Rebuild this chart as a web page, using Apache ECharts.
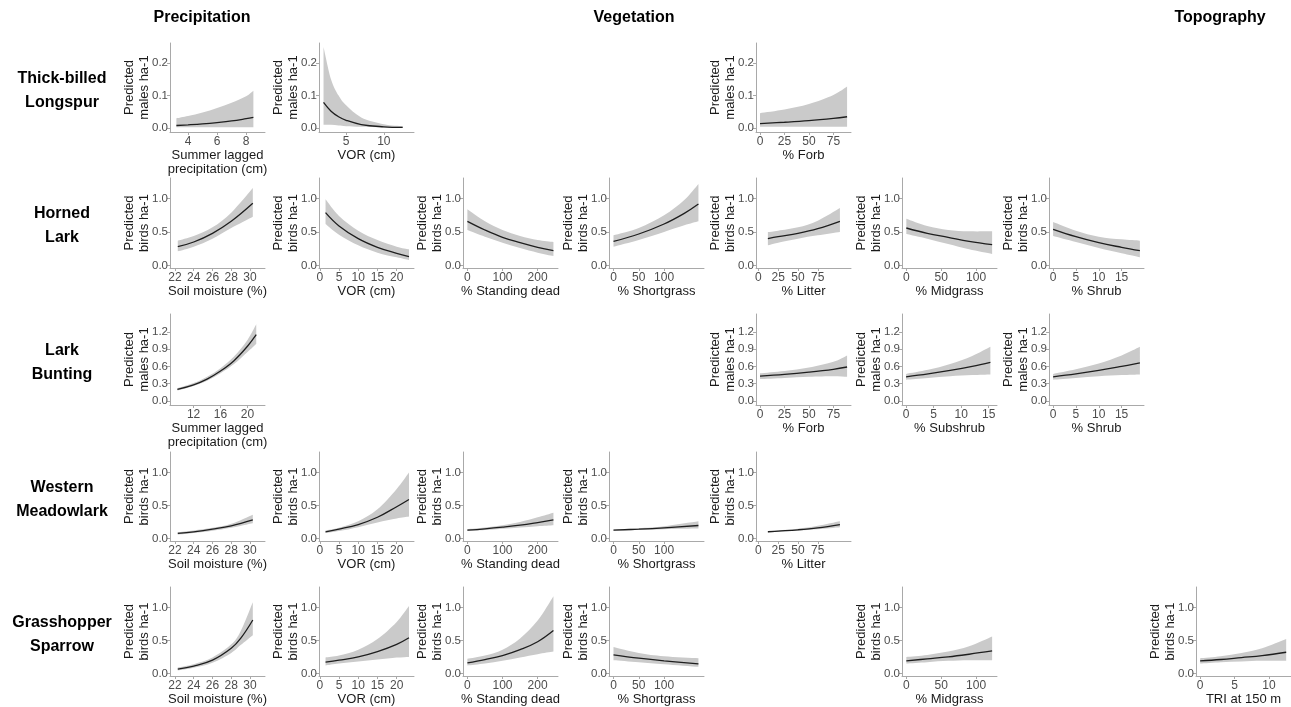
<!DOCTYPE html>
<html><head><meta charset="utf-8">
<script src="https://cdn.jsdelivr.net/npm/echarts@6.0.0/dist/echarts.min.js"></script>
<style>html,body{margin:0;padding:0;background:#fff}#c{width:1291px;height:707px}</style>
</head><body><div id="c"></div>
<script>
// ---------------- DATA ----------------
const ROW_LABELS = ['Thick-billed\nLongspur', 'Horned\nLark', 'Lark\nBunting', 'Western\nMeadowlark', 'Grasshopper\nSparrow'];
const COL_HEADERS = ['Precipitation', 'Vegetation', 'Topography'];
const Y_TITLES = ['Predicted\nmales ha-1', 'Predicted\nbirds ha-1', 'Predicted\nmales ha-1', 'Predicted\nbirds ha-1', 'Predicted\nbirds ha-1'];

const Y_TICKS_TBL = [0, 0.1, 0.2];
const Y_TICKS_BIRDS = [0, 0.5, 1.0];
const Y_TICKS_LB = [0, 0.3, 0.6, 0.9, 1.2];

const X_TICKS_PRECIP_TBL = [4, 6, 8];
const X_TICKS_VOR_TBL = [5, 10];
const X_TICKS_FORB = [0, 25, 50, 75];
const X_TICKS_SOIL = [22, 24, 26, 28, 30];
const X_TICKS_VOR = [0, 5, 10, 15, 20];
const X_TICKS_DEAD = [0, 100, 200];
const X_TICKS_SHORT = [0, 50, 100];
const X_TICKS_LITTER = [0, 25, 50, 75];
const X_TICKS_MID = [0, 50, 100];
const X_TICKS_SHRUB = [0, 5, 10, 15];
const X_TICKS_PRECIP_LB = [12, 16, 20];
const X_TICKS_SUBSHRUB = [0, 5, 10, 15];
const X_TICKS_TRI = [0, 5, 10];

// rows: [x, lower, predicted, upper]
const TBL_PRECIP = [[3.2,0.003,0.008,0.030],[4,0.003,0.010,0.037],[5,0.003,0.013,0.048],[6,0.003,0.017,0.062],[7,0.003,0.022,0.078],[8,0.003,0.029,0.098],[8.5,0.003,0.033,0.115]];
const TBL_VOR = [[2,0.010,0.079,0.250],[3,0.010,0.052,0.150],[4,0.008,0.035,0.100],[5,0.006,0.024,0.070],[7,0.004,0.011,0.033],[10,0.002,0.004,0.012],[12.5,0.001,0.002,0.006]];
const TBL_FORB = [[0,0.004,0.014,0.046],[25,0.004,0.018,0.057],[50,0.004,0.023,0.074],[75,0.004,0.030,0.102],[89,0.004,0.035,0.128]];

const HL_SOIL = [[22.3,0.21,0.28,0.37],[24,0.28,0.35,0.44],[26,0.40,0.48,0.57],[28,0.56,0.66,0.79],[30.3,0.73,0.93,1.16]];
const HL_VOR = [[1.5,0.62,0.79,0.99],[5,0.46,0.59,0.74],[10,0.30,0.40,0.52],[15,0.19,0.27,0.38],[20,0.12,0.18,0.28],[23.2,0.08,0.13,0.24]];
const HL_DEAD = [[0,0.53,0.66,0.84],[50,0.43,0.53,0.66],[100,0.34,0.42,0.53],[150,0.26,0.34,0.44],[200,0.19,0.27,0.38],[245,0.14,0.22,0.35]];
const HL_SHORT = [[0,0.28,0.36,0.45],[50,0.38,0.47,0.56],[100,0.50,0.62,0.75],[140,0.60,0.78,0.98],[168,0.66,0.92,1.22]];
const HL_LITTER = [[12,0.30,0.40,0.50],[25,0.34,0.43,0.52],[50,0.40,0.48,0.57],[75,0.45,0.55,0.67],[103,0.50,0.66,0.86]];
const HL_MID = [[0,0.47,0.56,0.70],[30,0.40,0.48,0.59],[60,0.32,0.42,0.53],[90,0.24,0.36,0.51],[123,0.17,0.31,0.51]];
const HL_SHRUB = [[0,0.44,0.54,0.65],[5,0.35,0.43,0.52],[10,0.26,0.34,0.43],[15,0.18,0.27,0.39],[19,0.12,0.22,0.37]];

const LB_PRECIP = [[9.6,0.18,0.20,0.22],[12,0.26,0.28,0.31],[14,0.35,0.38,0.42],[16,0.48,0.52,0.57],[18,0.64,0.70,0.77],[20,0.85,0.95,1.06],[21.3,0.99,1.15,1.33]];
const LB_FORB = [[0,0.38,0.43,0.48],[25,0.40,0.46,0.52],[50,0.42,0.50,0.58],[75,0.43,0.55,0.68],[89,0.42,0.59,0.79]];
const LB_SUBSHRUB = [[0,0.37,0.42,0.47],[4,0.40,0.47,0.54],[8,0.43,0.53,0.64],[12,0.45,0.60,0.78],[15.3,0.46,0.67,0.94]];
const LB_SHRUB = [[0,0.37,0.42,0.47],[5,0.40,0.47,0.55],[10,0.43,0.53,0.65],[15,0.45,0.60,0.79],[19,0.46,0.66,0.94]];

const WM_SOIL = [[22.3,0.055,0.075,0.095],[24,0.08,0.10,0.12],[26,0.115,0.14,0.16],[28,0.16,0.19,0.22],[30.3,0.23,0.28,0.36]];
const WM_VOR = [[1.5,0.08,0.10,0.12],[5,0.11,0.14,0.16],[10,0.17,0.21,0.26],[15,0.24,0.32,0.44],[20,0.30,0.48,0.75],[23.2,0.33,0.59,1.00]];
const WM_DEAD = [[0,0.11,0.125,0.14],[50,0.125,0.145,0.165],[100,0.145,0.17,0.20],[150,0.165,0.20,0.25],[200,0.185,0.24,0.32],[245,0.20,0.28,0.39]];
const WM_SHORT = [[0,0.115,0.125,0.135],[50,0.125,0.14,0.155],[100,0.14,0.16,0.185],[168,0.15,0.195,0.26]];
const WM_LITTER = [[12,0.09,0.10,0.11],[25,0.10,0.11,0.12],[50,0.12,0.13,0.145],[75,0.14,0.16,0.19],[103,0.17,0.21,0.26]];

const GS_SOIL = [[22.3,0.045,0.065,0.09],[24,0.085,0.11,0.14],[26,0.16,0.20,0.24],[28,0.31,0.38,0.44],[29,0.43,0.53,0.64],[30.3,0.58,0.81,1.08]];
const GS_VOR = [[1.5,0.12,0.17,0.24],[5,0.15,0.20,0.27],[10,0.18,0.25,0.36],[15,0.21,0.33,0.52],[20,0.24,0.44,0.78],[23.2,0.25,0.54,1.02]];
const GS_DEAD = [[0,0.12,0.16,0.22],[50,0.15,0.21,0.27],[100,0.19,0.27,0.36],[150,0.24,0.36,0.53],[200,0.29,0.48,0.80],[245,0.33,0.65,1.17]];
const GS_SHORT = [[0,0.20,0.28,0.40],[50,0.17,0.23,0.31],[100,0.14,0.19,0.26],[168,0.10,0.145,0.23]];
const GS_MID = [[0,0.15,0.19,0.25],[30,0.17,0.22,0.28],[60,0.19,0.25,0.33],[90,0.20,0.29,0.41],[123,0.20,0.34,0.56]];
const GS_TRI = [[0,0.15,0.19,0.23],[3,0.17,0.21,0.26],[6,0.18,0.24,0.31],[9,0.19,0.27,0.38],[12.5,0.19,0.32,0.52]];

// ---------------- LAYOUT ----------------
const COL_X = [170, 319, 463, 609, 756, 902, 1049, 1196];
const ROW_Y = [43, 178, 314, 452, 587];
const ROW_H = [89, 90, 91, 89, 90];
const PANEL_W = 95;
const Y_RANGE = [[-0.012, 0.262], [-0.04, 1.31], [-0.07, 1.51], [-0.04, 1.31], [-0.04, 1.31]];
const Y_TICKS = [Y_TICKS_TBL, Y_TICKS_BIRDS, Y_TICKS_LB, Y_TICKS_BIRDS, Y_TICKS_BIRDS];

const R_PRECIP_TBL = [2.76, 9.3], R_VOR_TBL = [1.4, 14.0], R_FORB = [-4.1, 93], R_SOIL = [21.47, 31.6],
      R_VOR = [-0.2, 24.5], R_DEAD = [-12.5, 258], R_SHORT = [-8.9, 179], R_LITTER = [-3, 117],
      R_MID = [-6.2, 130], R_SHRUB = [-0.9, 19.9], R_PRECIP_LB = [8.5, 22.6], R_SUB = [-0.74, 16.5], R_TRI = [-0.6, 13.2];

const PANELS = [
  {r:0,c:0,d:TBL_PRECIP,xt:X_TICKS_PRECIP_TBL,xn:'Summer lagged\nprecipitation (cm)',xr:R_PRECIP_TBL},
  {r:0,c:1,d:TBL_VOR,xt:X_TICKS_VOR_TBL,xn:'VOR (cm)',xr:R_VOR_TBL},
  {r:0,c:4,d:TBL_FORB,xt:X_TICKS_FORB,xn:'% Forb',xr:R_FORB},
  {r:1,c:0,d:HL_SOIL,xt:X_TICKS_SOIL,xn:'Soil moisture (%)',xr:R_SOIL},
  {r:1,c:1,d:HL_VOR,xt:X_TICKS_VOR,xn:'VOR (cm)',xr:R_VOR},
  {r:1,c:2,d:HL_DEAD,xt:X_TICKS_DEAD,xn:'% Standing dead',xr:R_DEAD},
  {r:1,c:3,d:HL_SHORT,xt:X_TICKS_SHORT,xn:'% Shortgrass',xr:R_SHORT},
  {r:1,c:4,d:HL_LITTER,xt:X_TICKS_LITTER,xn:'% Litter',xr:R_LITTER},
  {r:1,c:5,d:HL_MID,xt:X_TICKS_MID,xn:'% Midgrass',xr:R_MID},
  {r:1,c:6,d:HL_SHRUB,xt:X_TICKS_SHRUB,xn:'% Shrub',xr:R_SHRUB},
  {r:2,c:0,d:LB_PRECIP,xt:X_TICKS_PRECIP_LB,xn:'Summer lagged\nprecipitation (cm)',xr:R_PRECIP_LB},
  {r:2,c:4,d:LB_FORB,xt:X_TICKS_FORB,xn:'% Forb',xr:R_FORB},
  {r:2,c:5,d:LB_SUBSHRUB,xt:X_TICKS_SUBSHRUB,xn:'% Subshrub',xr:R_SUB},
  {r:2,c:6,d:LB_SHRUB,xt:X_TICKS_SHRUB,xn:'% Shrub',xr:R_SHRUB},
  {r:3,c:0,d:WM_SOIL,xt:X_TICKS_SOIL,xn:'Soil moisture (%)',xr:R_SOIL},
  {r:3,c:1,d:WM_VOR,xt:X_TICKS_VOR,xn:'VOR (cm)',xr:R_VOR},
  {r:3,c:2,d:WM_DEAD,xt:X_TICKS_DEAD,xn:'% Standing dead',xr:R_DEAD},
  {r:3,c:3,d:WM_SHORT,xt:X_TICKS_SHORT,xn:'% Shortgrass',xr:R_SHORT},
  {r:3,c:4,d:WM_LITTER,xt:X_TICKS_LITTER,xn:'% Litter',xr:R_LITTER},
  {r:4,c:0,d:GS_SOIL,xt:X_TICKS_SOIL,xn:'Soil moisture (%)',xr:R_SOIL},
  {r:4,c:1,d:GS_VOR,xt:X_TICKS_VOR,xn:'VOR (cm)',xr:R_VOR},
  {r:4,c:2,d:GS_DEAD,xt:X_TICKS_DEAD,xn:'% Standing dead',xr:R_DEAD},
  {r:4,c:3,d:GS_SHORT,xt:X_TICKS_SHORT,xn:'% Shortgrass',xr:R_SHORT},
  {r:4,c:5,d:GS_MID,xt:X_TICKS_MID,xn:'% Midgrass',xr:R_MID},
  {r:4,c:7,d:GS_TRI,xt:X_TICKS_TRI,xn:'TRI at 150 m',xr:R_TRI}
];

const FONT = '"Liberation Sans", Arial, sans-serif';
const AXIS_COLOR = '#a9a9a9';
const BAND_COLOR = '#cacaca';
const LINE_COLOR = '#1e1e1e';

// Catmull-Rom spline through pixel points -> SVG cubic segments
function splineSegs(pts) {
  let s = '';
  for (let k = 0; k < pts.length - 1; k++) {
    const p0 = pts[Math.max(k - 1, 0)], p1 = pts[k], p2 = pts[k + 1], p3 = pts[Math.min(k + 2, pts.length - 1)];
    const c1 = [p1[0] + (p2[0] - p0[0]) / 6, p1[1] + (p2[1] - p0[1]) / 6];
    const c2 = [p2[0] - (p3[0] - p1[0]) / 6, p2[1] - (p3[1] - p1[1]) / 6];
    s += ' C' + c1[0] + ',' + c1[1] + ' ' + c2[0] + ',' + c2[1] + ' ' + p2[0] + ',' + p2[1];
  }
  return s;
}

const grids = [], xAxes = [], yAxes = [], series = [];
PANELS.forEach((p, i) => {
  grids.push({left: COL_X[p.c], top: ROW_Y[p.r], width: PANEL_W, height: ROW_H[p.r]});
  xAxes.push({
    type: 'value', gridIndex: i, min: p.xr[0], max: p.xr[1], z: 10,
    name: p.xn, nameLocation: 'middle', nameGap: 16, nameMoveOverlap: false,
    nameTextStyle: {fontFamily: FONT, fontSize: 13, color: '#1a1a1a', lineHeight: 14},
    axisLine: {show: true, onZero: false, lineStyle: {color: AXIS_COLOR, width: 1}},
    axisTick: {show: true, customValues: p.xt, length: 3, lineStyle: {color: AXIS_COLOR}},
    axisLabel: {customValues: p.xt, margin: 4, fontFamily: FONT, fontSize: 12, color: '#4d4d4d'},
    splitLine: {show: false}
  });
  yAxes.push({
    type: 'value', gridIndex: i, min: Y_RANGE[p.r][0], max: Y_RANGE[p.r][1], z: 10,
    name: Y_TITLES[p.r], nameLocation: 'middle', nameRotate: 90, nameGap: 18.5, nameMoveOverlap: false,
    nameTextStyle: {fontFamily: FONT, fontSize: 13, color: '#1a1a1a', lineHeight: 15},
    axisLine: {show: true, onZero: false, lineStyle: {color: AXIS_COLOR, width: 1}},
    axisTick: {show: true, customValues: Y_TICKS[p.r], length: 3, lineStyle: {color: AXIS_COLOR}},
    axisLabel: {customValues: Y_TICKS[p.r], margin: 2, fontFamily: FONT, fontSize: 11.5, color: '#4d4d4d',
      formatter: v => Number(v).toFixed(1)},
    splitLine: {show: false}
  });
  const rows = p.d;
  // confidence ribbon: closed path between upper and lower bounds
  series.push({
    type: 'custom', xAxisIndex: i, yAxisIndex: i, silent: true, animation: false, z: 2,
    data: rows, encode: {x: 0, y: [1, 3]},
    renderItem: (params, api) => {
      if (params.dataIndex !== 0) return null;
      const up = rows.map(r => api.coord([r[0], r[3]]));
      const lo = rows.map(r => api.coord([r[0], r[1]])).reverse();
      const path = 'M' + up[0][0] + ',' + up[0][1] + splineSegs(up) +
        ' L' + lo[0][0] + ',' + lo[0][1] + splineSegs(lo) + ' Z';
      return {type: 'path', shape: {pathData: path}, style: {fill: BAND_COLOR, stroke: null}};
    }
  });
  // predicted line
  series.push({
    type: 'line', xAxisIndex: i, yAxisIndex: i, symbol: 'none', smooth: 0.4, silent: true, animation: false, z: 4,
    data: rows.map(r => [r[0], r[2]]), lineStyle: {color: LINE_COLOR, width: 1.3}
  });
});

const graphic = [];
const HEADER_X = [202, 634, 1220];
COL_HEADERS.forEach((t, k) => graphic.push({
  type: 'text', x: HEADER_X[k], y: 18,
  style: {text: t, font: 'bold 16px ' + FONT, fill: '#000', align: 'center', verticalAlign: 'middle', textAlign: 'center', textVerticalAlign: 'middle'}
}));
ROW_LABELS.forEach((t, k) => graphic.push({
  type: 'text', x: 62, y: ROW_Y[k] + ROW_H[k] / 2 + 3,
  style: {text: t, font: 'bold 16px ' + FONT, fill: '#000', lineHeight: 24, align: 'center', verticalAlign: 'middle', textAlign: 'center', textVerticalAlign: 'middle'}
}));

const chart = echarts.init(document.getElementById('c'), null, {renderer: 'canvas'});
chart.setOption({
  backgroundColor: '#fff', animation: false,
  grid: grids, xAxis: xAxes, yAxis: yAxes, series: series, graphic: graphic
});
</script></body></html>
